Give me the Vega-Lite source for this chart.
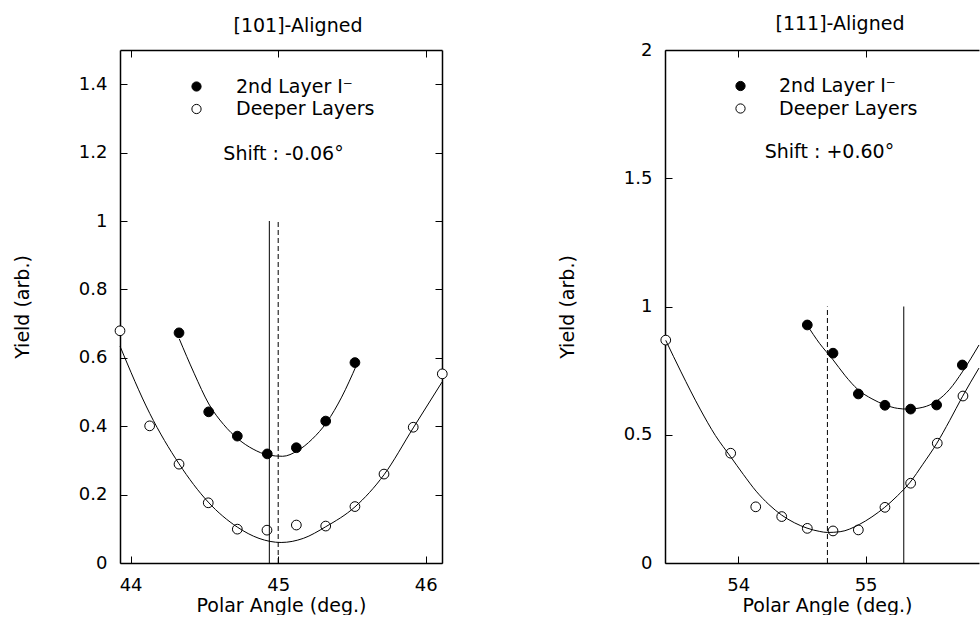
{
  "$schema": "https://vega.github.io/schema/vega-lite/v6.json",
  "background": "white",
  "padding": {"left": 13, "top": 14, "right": 0, "bottom": 0},
  "config": {
    "font": "DejaVu Sans",
    "view": {"stroke": null},
    "axis": {
      "domainColor": "black", "domainWidth": 1.5, "tickColor": "black", "tickWidth": 1,
      "tickSize": -7, "labelPadding": 20, "labelColor": "black", "titleColor": "black",
      "labelFontSize": 18, "titleFontSize": 19, "titleFontWeight": "normal", "grid": false,
      "labelFont": "DejaVu Sans", "titleFont": "DejaVu Sans", "minExtent": 0
    },
    "title": {"font": "DejaVu Sans", "fontSize": 19, "fontWeight": "normal", "color": "black"}
  },
  "datasets": {
    "pts101": [
      {"angle": 44.328, "yield": 0.673, "series": "2nd Layer I⁻"},
      {"angle": 44.529, "yield": 0.442, "series": "2nd Layer I⁻"},
      {"angle": 44.723, "yield": 0.371, "series": "2nd Layer I⁻"},
      {"angle": 44.926, "yield": 0.319, "series": "2nd Layer I⁻"},
      {"angle": 45.123, "yield": 0.337, "series": "2nd Layer I⁻"},
      {"angle": 45.322, "yield": 0.415, "series": "2nd Layer I⁻"},
      {"angle": 45.52, "yield": 0.586, "series": "2nd Layer I⁻"},
      {"angle": 43.928, "yield": 0.679, "series": "Deeper Layers"},
      {"angle": 44.129, "yield": 0.401, "series": "Deeper Layers"},
      {"angle": 44.328, "yield": 0.289, "series": "Deeper Layers"},
      {"angle": 44.526, "yield": 0.176, "series": "Deeper Layers"},
      {"angle": 44.723, "yield": 0.099, "series": "Deeper Layers"},
      {"angle": 44.924, "yield": 0.096, "series": "Deeper Layers"},
      {"angle": 45.123, "yield": 0.111, "series": "Deeper Layers"},
      {"angle": 45.322, "yield": 0.108, "series": "Deeper Layers"},
      {"angle": 45.52, "yield": 0.165, "series": "Deeper Layers"},
      {"angle": 45.717, "yield": 0.26, "series": "Deeper Layers"},
      {"angle": 45.915, "yield": 0.397, "series": "Deeper Layers"},
      {"angle": 46.112, "yield": 0.553, "series": "Deeper Layers"}
    ],
    "fit101": [
      {"angle": 44.33, "yield": 0.655, "series": "2nd Layer I⁻"},
      {"angle": 44.43, "yield": 0.555, "series": "2nd Layer I⁻"},
      {"angle": 44.53, "yield": 0.465, "series": "2nd Layer I⁻"},
      {"angle": 44.63, "yield": 0.405, "series": "2nd Layer I⁻"},
      {"angle": 44.73, "yield": 0.362, "series": "2nd Layer I⁻"},
      {"angle": 44.83, "yield": 0.333, "series": "2nd Layer I⁻"},
      {"angle": 44.93, "yield": 0.316, "series": "2nd Layer I⁻"},
      {"angle": 45.03, "yield": 0.312, "series": "2nd Layer I⁻"},
      {"angle": 45.13, "yield": 0.328, "series": "2nd Layer I⁻"},
      {"angle": 45.23, "yield": 0.362, "series": "2nd Layer I⁻"},
      {"angle": 45.33, "yield": 0.412, "series": "2nd Layer I⁻"},
      {"angle": 45.43, "yield": 0.485, "series": "2nd Layer I⁻"},
      {"angle": 45.53, "yield": 0.578, "series": "2nd Layer I⁻"},
      {"angle": 43.928, "yield": 0.634, "series": "Deeper Layers"},
      {"angle": 44.13, "yield": 0.437, "series": "Deeper Layers"},
      {"angle": 44.328, "yield": 0.29, "series": "Deeper Layers"},
      {"angle": 44.526, "yield": 0.178, "series": "Deeper Layers"},
      {"angle": 44.723, "yield": 0.105, "series": "Deeper Layers"},
      {"angle": 44.87, "yield": 0.072, "series": "Deeper Layers"},
      {"angle": 45.02, "yield": 0.06, "series": "Deeper Layers"},
      {"angle": 45.17, "yield": 0.072, "series": "Deeper Layers"},
      {"angle": 45.322, "yield": 0.106, "series": "Deeper Layers"},
      {"angle": 45.52, "yield": 0.164, "series": "Deeper Layers"},
      {"angle": 45.717, "yield": 0.258, "series": "Deeper Layers"},
      {"angle": 45.915, "yield": 0.395, "series": "Deeper Layers"},
      {"angle": 46.11, "yield": 0.529, "series": "Deeper Layers"}
    ],
    "lines101": [
      {"angle": 44.94, "kind": "2nd Layer I⁻"},
      {"angle": 45.0, "kind": "Deeper Layers"}
    ],
    "note101": [
      {"angle": 45.036, "yield": 1.196, "label": "Shift : -0.06°"}
    ],
    "pts111": [
      {"angle": 54.542, "yield": 0.928, "series": "2nd Layer I⁻"},
      {"angle": 54.744, "yield": 0.818, "series": "2nd Layer I⁻"},
      {"angle": 54.943, "yield": 0.659, "series": "2nd Layer I⁻"},
      {"angle": 55.152, "yield": 0.615, "series": "2nd Layer I⁻"},
      {"angle": 55.354, "yield": 0.6, "series": "2nd Layer I⁻"},
      {"angle": 55.558, "yield": 0.616, "series": "2nd Layer I⁻"},
      {"angle": 55.76, "yield": 0.772, "series": "2nd Layer I⁻"},
      {"angle": 53.43, "yield": 0.869, "series": "Deeper Layers"},
      {"angle": 53.94, "yield": 0.428, "series": "Deeper Layers"},
      {"angle": 54.137, "yield": 0.219, "series": "Deeper Layers"},
      {"angle": 54.341, "yield": 0.181, "series": "Deeper Layers"},
      {"angle": 54.542, "yield": 0.135, "series": "Deeper Layers"},
      {"angle": 54.744, "yield": 0.125, "series": "Deeper Layers"},
      {"angle": 54.943, "yield": 0.129, "series": "Deeper Layers"},
      {"angle": 55.152, "yield": 0.217, "series": "Deeper Layers"},
      {"angle": 55.354, "yield": 0.311, "series": "Deeper Layers"},
      {"angle": 55.563, "yield": 0.467, "series": "Deeper Layers"},
      {"angle": 55.765, "yield": 0.651, "series": "Deeper Layers"}
    ],
    "fit111": [
      {"angle": 54.54, "yield": 0.928, "series": "2nd Layer I⁻"},
      {"angle": 54.64, "yield": 0.855, "series": "2nd Layer I⁻"},
      {"angle": 54.74, "yield": 0.795, "series": "2nd Layer I⁻"},
      {"angle": 54.84, "yield": 0.73, "series": "2nd Layer I⁻"},
      {"angle": 54.94, "yield": 0.676, "series": "2nd Layer I⁻"},
      {"angle": 55.05, "yield": 0.64, "series": "2nd Layer I⁻"},
      {"angle": 55.15, "yield": 0.617, "series": "2nd Layer I⁻"},
      {"angle": 55.25, "yield": 0.603, "series": "2nd Layer I⁻"},
      {"angle": 55.33, "yield": 0.6, "series": "2nd Layer I⁻"},
      {"angle": 55.45, "yield": 0.607, "series": "2nd Layer I⁻"},
      {"angle": 55.56, "yield": 0.632, "series": "2nd Layer I⁻"},
      {"angle": 55.66, "yield": 0.677, "series": "2nd Layer I⁻"},
      {"angle": 55.76, "yield": 0.745, "series": "2nd Layer I⁻"},
      {"angle": 55.891, "yield": 0.85, "series": "2nd Layer I⁻"},
      {"angle": 53.43, "yield": 0.868, "series": "Deeper Layers"},
      {"angle": 53.55, "yield": 0.745, "series": "Deeper Layers"},
      {"angle": 53.7, "yield": 0.6, "series": "Deeper Layers"},
      {"angle": 53.82, "yield": 0.497, "series": "Deeper Layers"},
      {"angle": 53.94, "yield": 0.414, "series": "Deeper Layers"},
      {"angle": 54.04, "yield": 0.345, "series": "Deeper Layers"},
      {"angle": 54.14, "yield": 0.28, "series": "Deeper Layers"},
      {"angle": 54.24, "yield": 0.228, "series": "Deeper Layers"},
      {"angle": 54.34, "yield": 0.187, "series": "Deeper Layers"},
      {"angle": 54.44, "yield": 0.157, "series": "Deeper Layers"},
      {"angle": 54.54, "yield": 0.136, "series": "Deeper Layers"},
      {"angle": 54.64, "yield": 0.123, "series": "Deeper Layers"},
      {"angle": 54.7, "yield": 0.119, "series": "Deeper Layers"},
      {"angle": 54.8, "yield": 0.122, "series": "Deeper Layers"},
      {"angle": 54.95, "yield": 0.15, "series": "Deeper Layers"},
      {"angle": 55.05, "yield": 0.18, "series": "Deeper Layers"},
      {"angle": 55.15, "yield": 0.217, "series": "Deeper Layers"},
      {"angle": 55.25, "yield": 0.262, "series": "Deeper Layers"},
      {"angle": 55.35, "yield": 0.315, "series": "Deeper Layers"},
      {"angle": 55.45, "yield": 0.385, "series": "Deeper Layers"},
      {"angle": 55.56, "yield": 0.467, "series": "Deeper Layers"},
      {"angle": 55.66, "yield": 0.555, "series": "Deeper Layers"},
      {"angle": 55.76, "yield": 0.648, "series": "Deeper Layers"},
      {"angle": 55.891, "yield": 0.76, "series": "Deeper Layers"}
    ],
    "lines111": [
      {"angle": 55.3, "kind": "2nd Layer I⁻"},
      {"angle": 54.7, "kind": "Deeper Layers"}
    ],
    "note111": [
      {"angle": 54.716, "yield": 1.602, "label": "Shift : +0.60°"}
    ]
  },
  "bounds": "flush",
  "spacing": 223,
  "resolve": {
    "scale": {"x": "independent", "y": "independent", "fill": "independent"},
    "axis": {"x": "independent", "y": "independent"},
    "legend": {"fill": "independent"}
  },
  "hconcat": [
    {
      "width": 322,
      "height": 513,
      "title": {"text": "[101]-Aligned", "dx": 17, "offset": -1, "baseline": "alphabetic"},
      "resolve": {"axis": {"x": "independent", "y": "independent"}},
      "layer": [
        {
          "data": {"name": "pts101"},
          "mark": {"type": "point", "shape": "circle", "filled": true, "stroke": "black", "strokeWidth": 1, "size": 95, "opacity": 1},
          "encoding": {
            "x": {"field": "angle", "type": "quantitative",
                  "scale": {"domain": [43.928, 46.11], "nice": false, "zero": false},
                  "axis": {"orient": "bottom", "values": [44, 45, 46], "title": "Polar Angle (deg.)", "titlePadding": 2}},
            "y": {"field": "yield", "type": "quantitative",
                  "scale": {"domain": [0, 1.5], "nice": false},
                  "axis": {"orient": "left", "values": [0, 0.2, 0.4, 0.6, 0.8, 1, 1.2, 1.4], "format": "~g", "title": "Yield (arb.)", "titlePadding": 46}},
            "fill": {"field": "series", "type": "nominal",
                     "scale": {"domain": ["2nd Layer I⁻", "Deeper Layers"], "range": ["black", "white"]},
                     "legend": {"orient": "none", "legendX": 67, "legendY": 27, "title": null,
                                "symbolSize": 85, "symbolStrokeColor": "black", "symbolStrokeWidth": 1,
                                "labelFontSize": 19, "labelColor": "black", "labelOffset": 30, "rowPadding": 2.5}}
          }
        },
        {
          "data": {"name": "lines101"},
          "transform": [{"filter": "datum.kind === '2nd Layer I⁻'"}],
          "mark": {"type": "rule", "color": "black", "strokeWidth": 1},
          "encoding": {
            "x": {"field": "angle", "type": "quantitative",
                  "axis": {"orient": "top", "values": [44, 45, 46], "labels": false, "title": null}},
            "y": {"datum": 0, "type": "quantitative",
                  "axis": {"orient": "right", "values": [0, 0.2, 0.4, 0.6, 0.8, 1, 1.2, 1.4], "labels": false, "title": null}},
            "y2": {"datum": 1}
          }
        },
        {
          "data": {"name": "lines101"},
          "transform": [{"filter": "datum.kind === 'Deeper Layers'"}],
          "mark": {"type": "rule", "color": "black", "strokeWidth": 1, "strokeDash": [5, 3]},
          "encoding": {
            "x": {"field": "angle", "type": "quantitative", "axis": null},
            "y": {"datum": 0, "type": "quantitative", "axis": null},
            "y2": {"datum": 1}
          }
        },
        {
          "data": {"name": "fit101"},
          "mark": {"type": "line", "color": "black", "strokeWidth": 1, "interpolate": "monotone"},
          "encoding": {
            "x": {"field": "angle", "type": "quantitative", "axis": null},
            "y": {"field": "yield", "type": "quantitative", "axis": null},
            "detail": {"field": "series", "type": "nominal"}
          }
        },
        {
          "data": {"name": "note101"},
          "mark": {"type": "text", "fontSize": 19, "color": "black", "align": "center", "baseline": "middle"},
          "encoding": {
            "x": {"field": "angle", "type": "quantitative", "axis": null},
            "y": {"field": "yield", "type": "quantitative", "axis": null},
            "text": {"field": "label"}
          }
        }
      ]
    },
    {
      "width": 314,
      "height": 513,
      "title": {"text": "[111]-Aligned", "dx": 18, "offset": -7.6, "baseline": "alphabetic"},
      "resolve": {"axis": {"x": "independent", "y": "independent"}},
      "layer": [
        {
          "data": {"name": "pts111"},
          "mark": {"type": "point", "shape": "circle", "filled": true, "stroke": "black", "strokeWidth": 1, "size": 95, "opacity": 1},
          "encoding": {
            "x": {"field": "angle", "type": "quantitative",
                  "scale": {"domain": [53.424, 55.891], "nice": false, "zero": false},
                  "axis": {"orient": "bottom", "values": [54, 55], "title": "Polar Angle (deg.)", "titlePadding": 2, "titleX": 162}},
            "y": {"field": "yield", "type": "quantitative",
                  "scale": {"domain": [0, 2], "nice": false},
                  "axis": {"orient": "left", "values": [0, 0.5, 1, 1.5, 2], "format": "~g", "title": "Yield (arb.)", "titlePadding": 46}},
            "fill": {"field": "series", "type": "nominal",
                     "scale": {"domain": ["2nd Layer I⁻", "Deeper Layers"], "range": ["black", "white"]},
                     "legend": {"orient": "none", "legendX": 66, "legendY": 26.5, "title": null,
                                "symbolSize": 85, "symbolStrokeColor": "black", "symbolStrokeWidth": 1,
                                "labelFontSize": 19, "labelColor": "black", "labelOffset": 29, "rowPadding": 2.5}}
          }
        },
        {
          "data": {"name": "lines111"},
          "transform": [{"filter": "datum.kind === '2nd Layer I⁻'"}],
          "mark": {"type": "rule", "color": "black", "strokeWidth": 1},
          "encoding": {
            "x": {"field": "angle", "type": "quantitative",
                  "axis": {"orient": "top", "values": [54, 55], "labels": false, "title": null}},
            "y": {"datum": 0, "type": "quantitative", "axis": null},
            "y2": {"datum": 1}
          }
        },
        {
          "data": {"name": "lines111"},
          "transform": [{"filter": "datum.kind === 'Deeper Layers'"}],
          "mark": {"type": "rule", "color": "black", "strokeWidth": 1, "strokeDash": [5, 3]},
          "encoding": {
            "x": {"field": "angle", "type": "quantitative", "axis": null},
            "y": {"datum": 0, "type": "quantitative", "axis": null},
            "y2": {"datum": 1}
          }
        },
        {
          "data": {"name": "fit111"},
          "mark": {"type": "line", "color": "black", "strokeWidth": 1, "interpolate": "monotone"},
          "encoding": {
            "x": {"field": "angle", "type": "quantitative", "axis": null},
            "y": {"field": "yield", "type": "quantitative", "axis": null},
            "detail": {"field": "series", "type": "nominal"}
          }
        },
        {
          "data": {"name": "note111"},
          "mark": {"type": "text", "fontSize": 19, "color": "black", "align": "center", "baseline": "middle"},
          "encoding": {
            "x": {"field": "angle", "type": "quantitative", "axis": null},
            "y": {"field": "yield", "type": "quantitative", "axis": null},
            "text": {"field": "label"}
          }
        }
      ]
    }
  ]
}
